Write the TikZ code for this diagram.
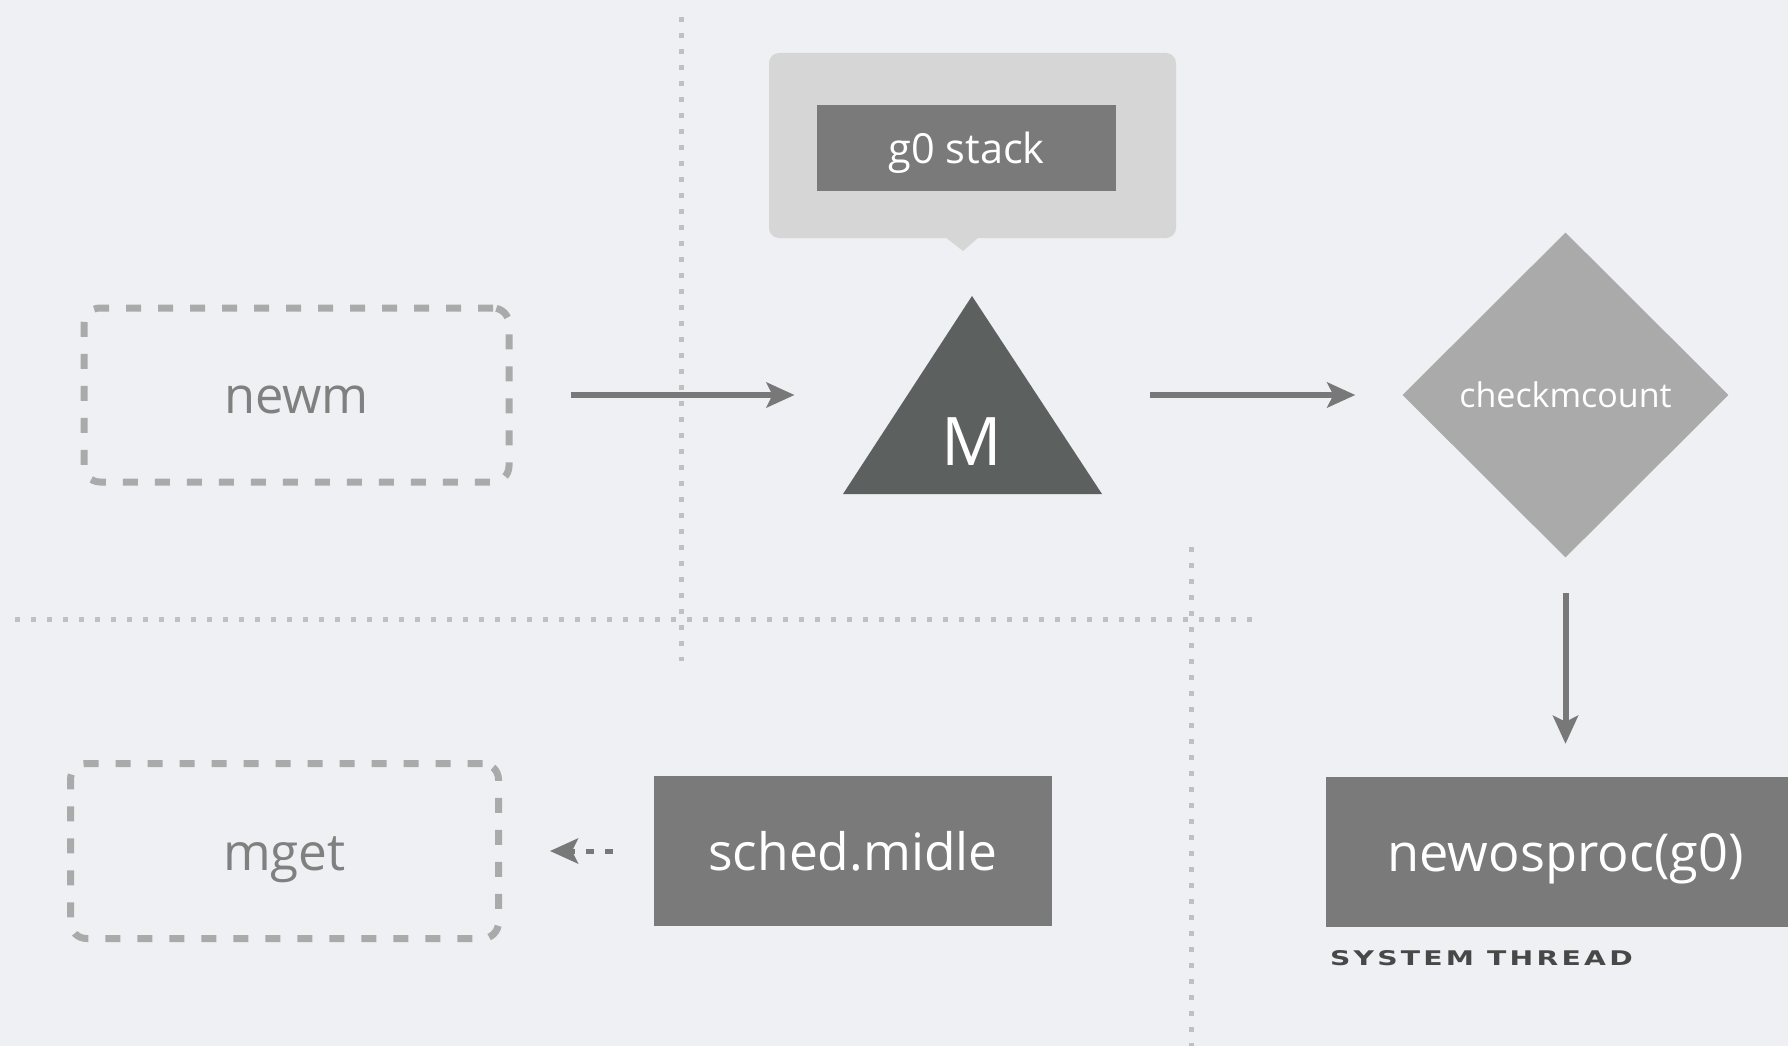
\documentclass[tikz,border=0pt]{standalone}
\usepackage{fontspec}
\setmainfont{Open Sans}
\newfontfamily\capsfont[FakeStretch=1.4,LetterSpace=16]{DejaVu Sans Bold}
\usepackage{tikz}
\usetikzlibrary{arrows.meta,shapes.geometric,calc}
\definecolor{bgcol}{RGB}{238,240,243}
\definecolor{gridcol}{RGB}{192,192,192}
\definecolor{dashcol}{RGB}{170,170,170}
\definecolor{arrcol}{RGB}{120,120,120}
\definecolor{boxcol}{RGB}{122,122,122}
\definecolor{calloutcol}{RGB}{214,214,214}
\definecolor{tricol}{RGB}{92,96,95}
\definecolor{diacol}{RGB}{170,170,170}
\definecolor{txtcol}{RGB}{128,128,128}
\definecolor{capcol}{RGB}{72,72,72}
\tikzset{>={Stealth[length=28pt,width=25pt,inset=6pt]}}
\tikzset{
  gridline/.style={draw=gridcol, line width=5pt, dash pattern=on 5pt off 11pt},
  txt/.style={inner sep=0},
  dashbox/.style={txt, draw=dashcol, line width=7pt, dash pattern=on 15pt off 17pt,
    rounded corners=16pt, text=txtcol},
  fillbox/.style={txt, fill=boxcol, text=white},
  arr/.style={draw=arrcol, line width=6pt, ->},
  systxt/.style={inner sep=0, text=capcol, font=\capsfont\fontsize{20.2}{22}\selectfont}
}

\begin{document}
\begin{tikzpicture}[x=1pt,y=-1pt]
                % Canvas
                \useasboundingbox (0,0) rectangle (1788,1046);
                \clip (0,0) rectangle (1788,1046);
                \fill[bgcol] (0,0) rectangle (1788,1046);

                % Dotted guide lines
                \draw[gridline] (681,17) -- (681,661);
                \draw[gridline] (15,619) -- (1254,619);
                \draw[gridline] (1191,547) -- (1191,1046);

                % Callout holding the g0 stack
                \fill[calloutcol, rounded corners=10pt] (769,53) rectangle (1176,238);
                \fill[calloutcol] (945,237) -- (979,237) -- (963,251) -- cycle;
                \node[fillbox, minimum width=299pt, minimum height=86pt, text height=39.4pt, text depth=8.3pt,
                  font=\fontsize{41.5}{48}\selectfont] (stack) at (966.5,148) {g0 stack};

                % M triangle
                \coordinate (Mtop) at (972,296);
                \coordinate (Mbl) at (843,494);
                \coordinate (Mbr) at (1102,494);
                \fill[tricol] (Mtop) -- (Mbl) -- (Mbr) -- cycle;
                \node[txt, text=white, text height=63.7pt, text depth=13.4pt,
                  font=\fontsize{67}{70}\selectfont] (M) at (972,440) {M};
                \coordinate (Mw) at ($(Mtop)!0.5!(Mbl)$);
                \coordinate (Me) at ($(Mtop)!0.5!(Mbr)$);

                % Boxes
                \node[dashbox, minimum width=425pt, minimum height=174pt, text height=48pt, text depth=10.1pt,
                  font=\fontsize{50.6}{58}\selectfont] (newm) at (296.5,395) {newm};
                \node[diamond, txt, fill=diacol, text=white, minimum width=326pt,
                  minimum height=325pt, text height=32.3pt, text depth=6.8pt,
                  font=\fontsize{34}{40}\selectfont] (chk) at (1565.5,395) {checkmcount};
                \node[fillbox, minimum width=479pt, minimum height=150pt, text height=49.7pt, text depth=10.5pt,
                  font=\fontsize{52.3}{60}\selectfont] (nos) at (1565.5,852) {newosproc(g0)};
                \node[systxt, anchor=base west] (sys) at ($(nos.south west)+(4,38.5)$) {SYSTEM THREAD};
                \node[dashbox, minimum width=428pt, minimum height=175pt, text height=48.7pt, text depth=10.3pt,
                  font=\fontsize{51.3}{58}\selectfont] (mget) at (284.5,851) {mget};
                \node[fillbox, minimum width=398pt, minimum height=150pt, text height=48.9pt, text depth=10.3pt,
                  font=\fontsize{51.5}{60}\selectfont] (sched) at (853,851) {sched.midle};

                % Connectors
                \draw[arr, shorten <=58pt, shorten >=113pt] (newm.east) -- (Mw);
                \draw[arr, shorten <=113pt, shorten >=47pt] (Me) -- (chk.west);
                \draw[arr, shorten <=35.5pt, shorten >=33pt] (chk.south) -- (nos.north);
                \draw[arr, line width=5pt, dash pattern=on 8pt off 11pt, shorten <=41pt, shorten >=48pt] (sched.west) -- (mget.east);
\end{tikzpicture}
\end{document}
